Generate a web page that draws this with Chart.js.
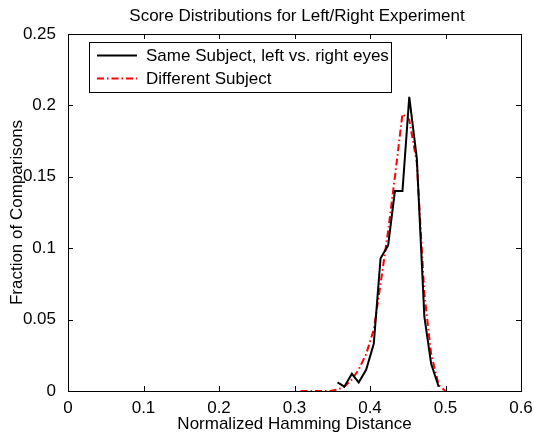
<!DOCTYPE html>
<html>
<head>
<meta charset="utf-8">
<script src="https://cdn.jsdelivr.net/npm/chart.js@4"></script>
<style>
  html, body { margin: 0; padding: 0; background: #fff; }
</style>
</head>
<body>
<canvas id="chart" width="534" height="432"></canvas>
<script>
// Same subject, left vs. right eyes
const sameX = [0.357, 0.366, 0.376, 0.385, 0.395, 0.405, 0.414, 0.424, 0.433, 0.443, 0.452, 0.462, 0.472, 0.481, 0.491];
const sameY = [0.006, 0.003, 0.012, 0.006, 0.015, 0.033, 0.093, 0.102, 0.140, 0.140, 0.206, 0.163, 0.052, 0.019, 0.003];

// Different subject
const diffX = [0.308, 0.318, 0.327, 0.337, 0.347, 0.357, 0.366, 0.376, 0.385, 0.395, 0.405, 0.414, 0.424, 0.433, 0.443, 0.452, 0.462, 0.472, 0.481, 0.491, 0.500];
const diffY = [0.000, 0.000, 0.000, 0.000, 0.000, 0.001, 0.003, 0.008, 0.015, 0.026, 0.043, 0.075, 0.112, 0.150, 0.194, 0.190, 0.160, 0.068, 0.026, 0.004, 0.000];

const xTicks = [0, 0.1, 0.2, 0.3, 0.4, 0.5, 0.6];
const yTicks = [0, 0.05, 0.1, 0.15, 0.2, 0.25];

const seriesNames = ['Same Subject, left vs. right eyes', 'Different Subject'];
const chartTitle = 'Score Distributions for Left/Right Experiment';

const FONT = 'Liberation Sans, Arial, Helvetica, sans-serif';

const toPoints = (xs, ys) => xs.map((x, i) => ({ x: x, y: ys[i] }));
const fmt = v => String(+v.toFixed(2));

// frame, inward ticks, title and boxed legend drawn like the original figure
const matlabLook = {
    id: 'matlabLook',
    afterDatasetsDraw(chart) {
        const { ctx, chartArea: a, scales } = chart;
        ctx.save();

        // axes box
        ctx.strokeStyle = '#000';
        ctx.lineWidth = 1;
        ctx.strokeRect(a.left + 0.5, a.top + 0.5, a.right - a.left, a.bottom - a.top);

        // inward ticks
        const tl = 5;
        ctx.beginPath();
        xTicks.forEach(v => {
            const px = Math.round(scales.x.getPixelForValue(v)) + 0.5;
            ctx.moveTo(px, a.bottom); ctx.lineTo(px, a.bottom - tl);
            ctx.moveTo(px, a.top); ctx.lineTo(px, a.top + tl);
        });
        yTicks.forEach(v => {
            const py = Math.round(scales.y.getPixelForValue(v)) + 0.5;
            ctx.moveTo(a.left, py); ctx.lineTo(a.left + tl, py);
            ctx.moveTo(a.right, py); ctx.lineTo(a.right - tl, py);
        });
        ctx.stroke();

        // title
        ctx.fillStyle = '#000';
        ctx.font = '17px ' + FONT;
        ctx.textAlign = 'center';
        ctx.textBaseline = 'middle';
        ctx.fillText(chartTitle, 297, 16);

        // legend
        const lx = 89, ly = 42, lw = 302, lh = 50;
        ctx.fillStyle = '#fff';
        ctx.fillRect(lx, ly, lw, lh);
        ctx.strokeStyle = '#000';
        ctx.strokeRect(lx + 0.5, ly + 0.5, lw, lh);
        chart.data.datasets.forEach((ds, i) => {
            const rowY = ly + 13 + i * 23;
            ctx.beginPath();
            ctx.strokeStyle = ds.borderColor;
            ctx.lineWidth = ds.borderWidth;
            ctx.setLineDash(ds.borderDash || []);
            ctx.moveTo(97, rowY + 0.5);
            ctx.lineTo(137, rowY + 0.5);
            ctx.stroke();
            ctx.setLineDash([]);
            ctx.fillStyle = '#000';
            ctx.textAlign = 'left';
            ctx.textBaseline = 'middle';
            ctx.fillText(ds.label, 146, rowY + 1);
        });
        ctx.restore();
    }
};

new Chart(document.getElementById('chart'), {
    type: 'line',
    data: {
        datasets: [
            {
                label: seriesNames[0],
                data: toPoints(sameX, sameY),
                borderColor: '#000000',
                borderWidth: 2,
                pointRadius: 0,
                tension: 0
            },
            {
                label: seriesNames[1],
                data: toPoints(diffX, diffY),
                borderColor: '#ff0000',
                borderWidth: 2,
                borderDash: [7, 3, 1.5, 3],
                pointRadius: 0,
                tension: 0
            }
        ]
    },
    options: {
        responsive: false,
        animation: false,
        layout: { padding: { top: 34, right: 13, left: 7, bottom: 0 } },
        plugins: {
            legend: { display: false },
            tooltip: { enabled: false }
        },
        scales: {
            x: {
                type: 'linear',
                min: 0, max: 0.6,
                afterBuildTicks: s => { s.ticks = xTicks.map(v => ({ value: v })); },
                afterFit: s => { s.height = 41; },
                grid: { display: false },
                border: { display: false },
                ticks: { color: '#000', font: { family: FONT, size: 17 }, padding: -1, maxRotation: 0, callback: fmt },
                title: { display: true, text: 'Normalized Hamming Distance', color: '#000',
                         font: { family: FONT, size: 17 }, padding: { top: 0, bottom: -3 } }
            },
            y: {
                type: 'linear',
                min: 0, max: 0.25,
                afterBuildTicks: s => { s.ticks = yTicks.map(v => ({ value: v })); },
                afterFit: s => { s.width = 61; },
                grid: { display: false },
                border: { display: false },
                ticks: { color: '#000', font: { family: FONT, size: 17 }, padding: 4, callback: fmt },
                title: { display: true, text: 'Fraction of Comparisons', color: '#000',
                         font: { family: FONT, size: 17 }, padding: 0 }
            }
        }
    },
    plugins: [matlabLook]
});
</script>
</body>
</html>
